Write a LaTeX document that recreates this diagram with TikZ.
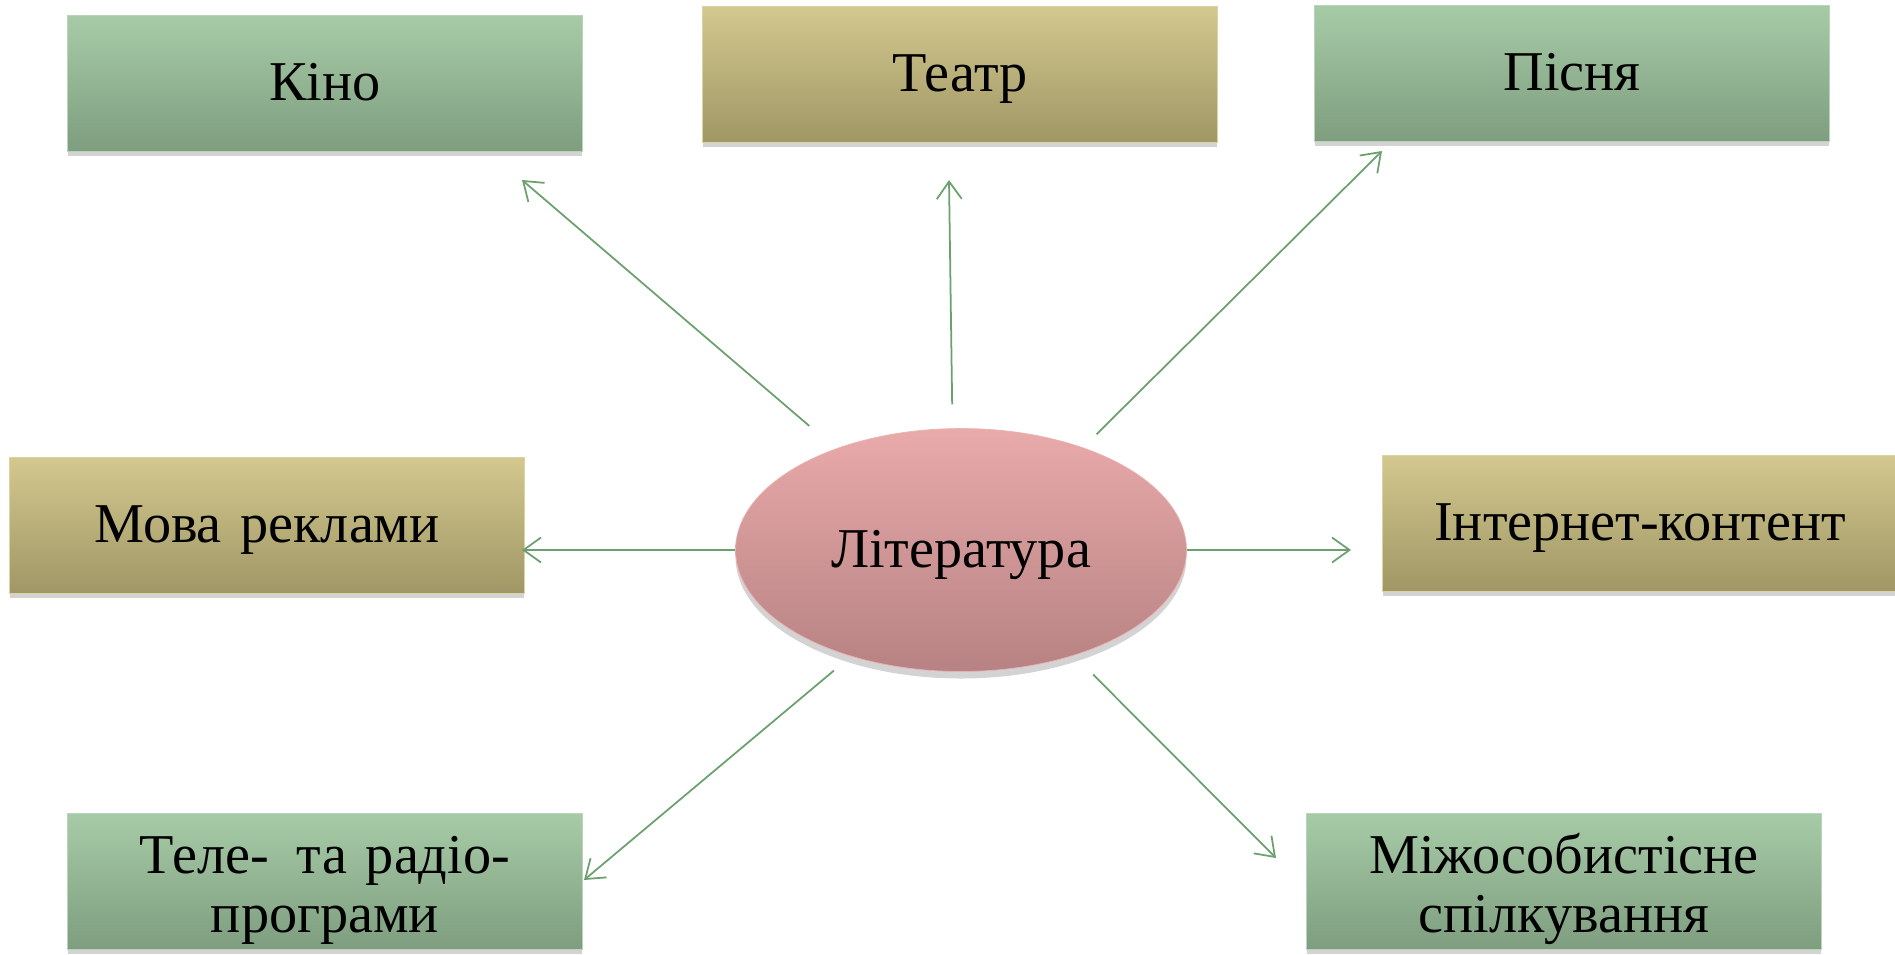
\documentclass[tikz,border=0pt]{standalone}
\usepackage{fontspec}
\setmainfont{Liberation Serif}
\usetikzlibrary{shapes,shadows,arrows.meta,calc}
\definecolor{greentop}{HTML}{A7CBA7}
\definecolor{greenbot}{HTML}{7E9E7F}
\definecolor{olivetop}{HTML}{D3C88E}
\definecolor{olivebot}{HTML}{A09766}
\definecolor{pinktop}{HTML}{E9AAAA}
\definecolor{pinkbot}{HTML}{B78283}
\definecolor{arrowgreen}{HTML}{6BA06F}
\tikzstyle{line} = [draw, color=arrowgreen, line width=1pt, -{Straight Barb[length=3.5mm,width=5mm]}]
\tikzstyle{box} = [rectangle, inner sep=0pt, minimum width=10.3cm, minimum height=2.72cm, text width=10cm, align=center, font=\fontsize{32}{34}\selectfont, drop shadow={shadow xshift=0pt, shadow yshift=-3pt, opacity=0.35}]
\tikzstyle{one_line} = [text height=20pt, text depth=0pt]
\tikzstyle{two_line} = [text height=25pt, text depth=34pt]
\tikzstyle{box_green} = [box, draw=greentop!80!white, top color=greentop, bottom color=greenbot]
\tikzstyle{box_olive} = [box, draw=olivetop!80!white, top color=olivetop, bottom color=olivebot]
\tikzstyle{center_ell} = [ellipse, draw=pinktop!90!white, inner sep=0pt, minimum width=9.02cm, minimum height=4.86cm, top color=pinktop, bottom color=pinkbot, font=\fontsize{32}{36}\selectfont, drop shadow={shadow xshift=0pt, shadow yshift=-4pt, opacity=0.35}]

\begin{document}
\begin{tikzpicture}[x=0.02cm, y=-0.02cm]
		\useasboundingbox (0,0) rectangle (1895,954);
		
		\node[center_ell, one_line] (lit) at (961,550) {Література};
		
		\node[box_green, one_line] (kino) at (325,83) {Кіно};
		\node[box_olive, one_line] (teatr) at (960,74) {Театр};
		\node[box_green, one_line] (pisnia) at (1572,73) {Пісня};
		\node[box_olive, one_line] (mova) at (267,525) {Мова реклами};
		\node[box_olive, one_line] (inet) at (1640,523) {Інтернет-контент};
		\node[box_green, two_line] (tele) at (325,881) {Теле-\, та радіо-\\програми};
		\node[box_green, two_line] (mizh) at (1564,881) {Міжособистісне\\спілкування};
		
		\coordinate (kino_tip) at (522,180);
		\coordinate (teatr_tip) at (949,180);
		\coordinate (pisnia_tip) at (1382,151);
		\coordinate (mova_tip) at (522,550);
		\coordinate (inet_tip) at (1351,550);
		\coordinate (tele_tip) at (584,880);
		\coordinate (mizh_tip) at (1276,858);
		
		\path [line, shorten <=0.7cm] (lit.141.6) to (kino_tip);
		\path [line, shorten <=0.48cm] (lit.94.7) to (teatr_tip);
		\path [line, shorten <=0.38cm] (lit.40.4) to (pisnia_tip);
		\path [line] (lit.west) to (mova_tip);
		\path [line] (lit.east) to (inet_tip);
		\path [line, shorten <=0.44cm] (lit.224.5) to (tele_tip);
		\path [line, shorten <=0.54cm] (lit.317.9) to (mizh_tip);
		
\end{tikzpicture}
\end{document}
